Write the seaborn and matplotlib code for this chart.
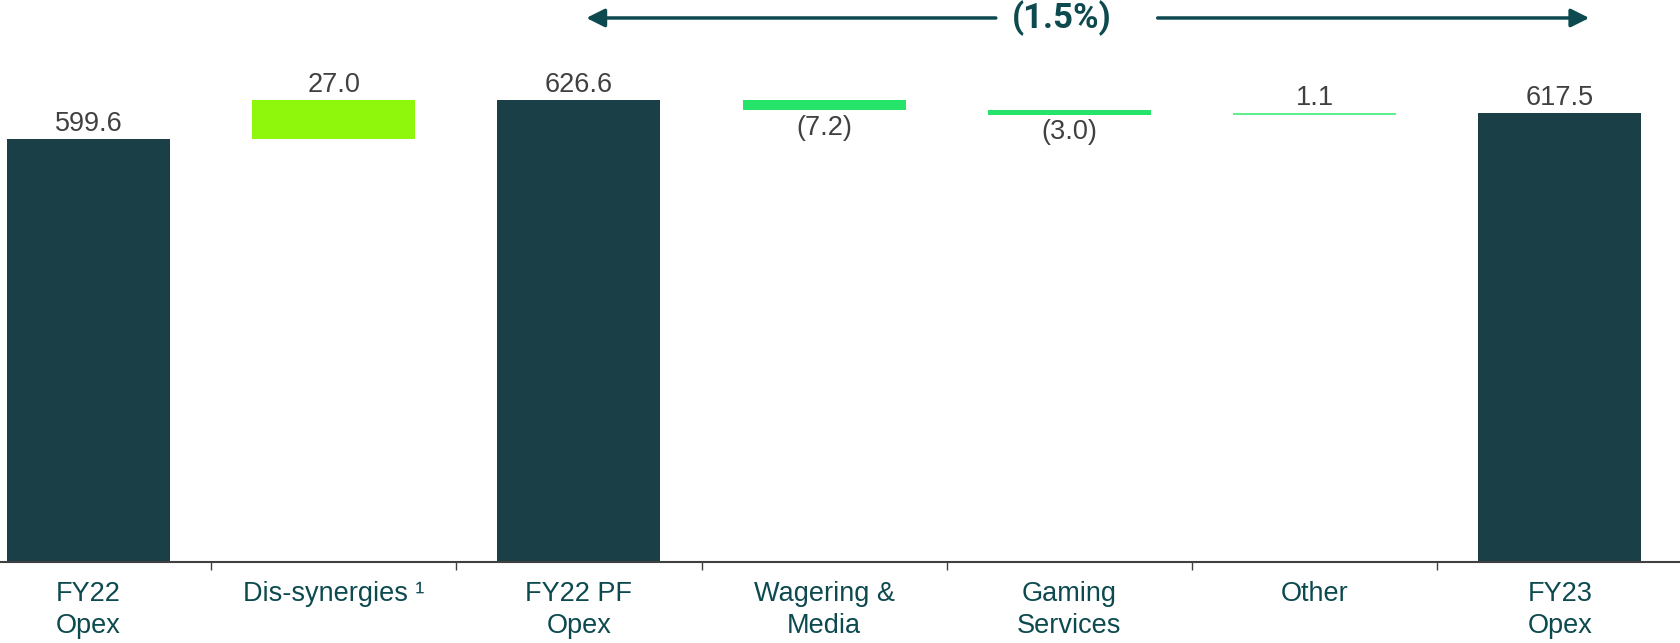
import matplotlib
matplotlib.use("Agg")
import matplotlib.pyplot as plt
import seaborn as sns
import numpy as np
import pandas as pd

# Données du pont Opex
categories = ["FY22\nOpex", "Dis-synergies \u00b9", "FY22 PF\nOpex", "Wagering &\nMedia",
              "Gaming\nServices", "Other", "FY23\nOpex"]
values = [599.6, 27.0, 626.6, -7.2, -3.0, 1.1, 617.5]
is_total = [True, False, True, False, False, False, True]
value_labels = ["599.6", "27.0", "626.6", "(7.2)", "(3.0)", "1.1", "617.5"]
colors = ["#1b3f47", "#8ef70c", "#1b3f47", "#26e46a", "#26e46a", "#5ef08f", "#1b3f47"]
change_label = "(1.5%)"

# Calcul des bas / hauts de chaque barre
tops, bottoms = [], []
running = 0.0
for v, tot in zip(values, is_total):
    if tot:
        running = v
        bottoms.append(0.0)
        tops.append(v)
    else:
        start = running
        running = running + v
        bottoms.append(min(start, running))
        tops.append(max(start, running))

df = pd.DataFrame({"cat": categories, "top": tops, "bottom": bottoms,
                   "mask": [0.0 if t else b for t, b in zip(is_total, bottoms)]})

sns.set_style("white")
plt.rcParams["font.family"] = ["Liberation Sans", "DejaVu Sans"]

fig = plt.figure(figsize=(16.8, 6.43), dpi=100)
ax = fig.add_axes([0, 0.126, 1, 0.874])

sns.barplot(data=df, x="cat", y="top", hue="cat", palette=colors, legend=False,
            width=0.665, saturation=1, linewidth=0, ax=ax)
# masque blanc sous les barres flottantes
sns.barplot(data=df, x="cat", y="mask", color="white", width=0.67, saturation=1,
            linewidth=0, ax=ax)

ax.set_ylim(308, 695.6)
ax.set_xlim(-0.361, 6.49)

# Étiquettes de valeur
for i, (v, tot) in enumerate(zip(values, is_total)):
    if v >= 0:
        ax.text(i, tops[i] + 1.5, value_labels[i], ha="center", va="bottom",
                fontsize=19.5, color="#404040")
    else:
        ax.text(i, bottoms[i] - 3, value_labels[i], ha="center", va="top",
                fontsize=19.5, color="#404040")

# Axes
for s in ["top", "left", "right"]:
    ax.spines[s].set_visible(False)
ax.spines["bottom"].set_color("#404040")
ax.spines["bottom"].set_linewidth(1.5)
ax.set_yticks([])
ax.set_xlabel("")
ax.set_ylabel("")
ax.set_xticks(range(len(categories)))
ax.set_xticklabels(categories, fontsize=19.5, color="#0d4a4f", linespacing=1.3)
ax.tick_params(axis="x", which="major", length=0, pad=14)
ax.set_xticks(np.arange(0.5, len(categories) - 1, 1.0), minor=True)
ax.tick_params(axis="x", which="minor", length=6, width=1, color="#404040", bottom=True)

# Flèche de variation
y_arrow = 683.2
arrow_color = "#0d4a4f"
head = "-|>,head_length=1.1,head_width=0.55"
ax.annotate("", xy=(2.03, y_arrow), xytext=(3.70, y_arrow),
            arrowprops=dict(arrowstyle=head, color=arrow_color, lw=2.5,
                            shrinkA=0, shrinkB=0))
ax.annotate("", xy=(6.12, y_arrow), xytext=(4.36, y_arrow),
            arrowprops=dict(arrowstyle=head, color=arrow_color, lw=2.5,
                            shrinkA=0, shrinkB=0))
ax.text(3.97, y_arrow, change_label, ha="center", va="center", fontsize=25,
        fontweight="bold", color=arrow_color, family=["Roboto", "DejaVu Sans"])

fig.savefig("out.png", dpi=100)
